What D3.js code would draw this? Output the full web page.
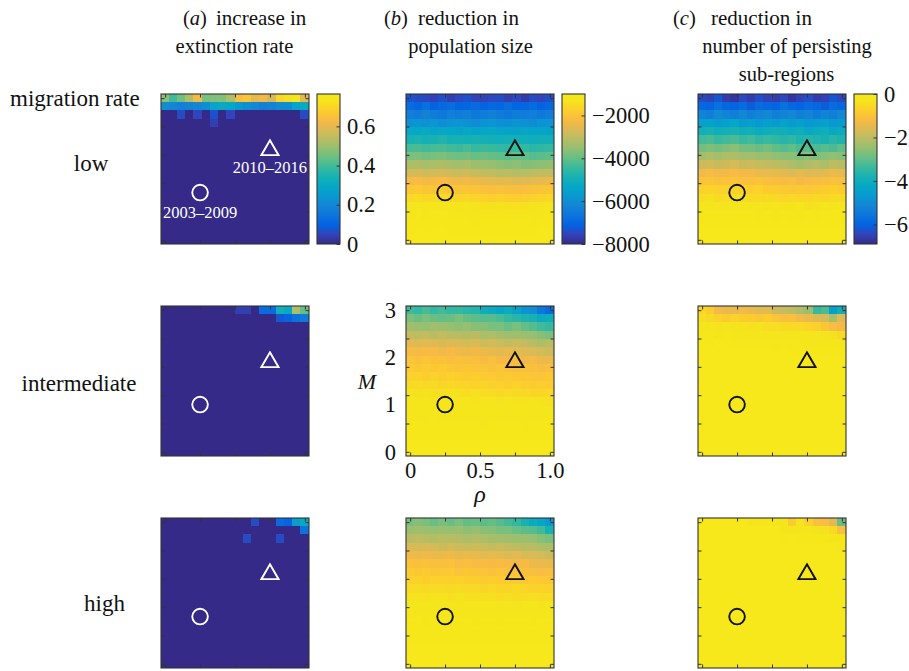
<!DOCTYPE html>
<html><head><meta charset="utf-8">
<script src="https://cdn.jsdelivr.net/npm/d3@7"></script>
<style>
body{margin:0;background:#fff}
text{font-family:"Liberation Serif","Times New Roman",serif;fill:#111}
</style>
</head><body>
<svg id="chart" width="909" height="671"></svg>
<script>
// ---------------- data ----------------
const rhoCenters = [0,0.0588,0.1176,0.1765,0.2353,0.2941,0.3529,0.4118,0.4706,0.5294,0.5882,0.6471,0.7059,0.7647,0.8235,0.8824,0.9412,1];
const mCentersTopDown = [3,2.8235,2.6471,2.4706,2.2941,2.1176,1.9412,1.7647,1.5882,1.4118,1.2353,1.0588,0.8824,0.7059,0.5294,0.3529,0.1765,0];
const rhoTicks = [0,0.25,0.5,0.75,1];
const rhoLabelValues = [0,0.5,1];
const rhoLabelTexts = ["0","0.5","1.0"];
const mTicks = [0,0.6,1.2,1.8,2.4,3];
const mLabelValues = [0,1,2,3];

const columnTitles = [
  ["a", "increase in", "extinction rate"],
  ["b", "reduction in", "population size"],
  ["c", "reduction in", "number of persisting", "sub-regions"]
];
const migrationLevels = ["low","intermediate","high"];

const periodLabels = ["2003\u20132009","2010\u20132016"];
const periodRho = [0.25, 0.75];
const periodM = [1.0, 1.95];
const periodShapes = ["circle","triangle"];

const extentExtinction = [0, 0.765];
const extentPopulation = [-8000, -1000];
const extentSubregions = [-6.9, 0];
const ticksExtinction = [0, 0.2, 0.4, 0.6];
const ticksPopulation = [-8000, -6000, -4000, -2000];
const ticksSubregions = [-6, -4, -2, 0];

// (a) increase in extinction rate — rows from M=3 (top) to M=0 (bottom)
const extinctionLow = [
[0.48,0.40,0.45,0.52,0.62,0.46,0.47,0.47,0.52,0.64,0.66,0.60,0.62,0.58,0.70,0.72,0.74,0.60],
[0.22,0.20,0.18,0.19,0.20,0.22,0.28,0.30,0.29,0.25,0.22,0.20,0.18,0.19,0.21,0.22,0.28,0.30],
[0,0,0.06,0,0.05,0,0.07,0,0.05,0,0,0,0,0,0,0,0,0.06],
[0,0,0,0,0,0,0.04,0,0,0,0,0,0,0,0,0,0,0],
[0,0,0,0,0,0,0,0,0,0,0,0,0,0,0,0,0,0],
[0,0,0,0,0,0,0,0,0,0,0,0,0,0,0,0,0,0],
[0,0,0,0,0,0,0,0,0,0,0,0,0,0,0,0,0,0],
[0,0,0,0,0,0,0,0,0,0,0,0,0,0,0,0,0,0],
[0,0,0,0,0,0,0,0,0,0,0,0,0,0,0,0,0,0],
[0,0,0,0,0,0,0,0,0,0,0,0,0,0,0,0,0,0],
[0,0,0,0,0,0,0,0,0,0,0,0,0,0,0,0,0,0],
[0,0,0,0,0,0,0,0,0,0,0,0,0,0,0,0,0,0],
[0,0,0,0,0,0,0,0,0,0,0,0,0,0,0,0,0,0],
[0,0,0,0,0,0,0,0,0,0,0,0,0,0,0,0,0,0],
[0,0,0,0,0,0,0,0,0,0,0,0,0,0,0,0,0,0],
[0,0,0,0,0,0,0,0,0,0,0,0,0,0,0,0,0,0],
[0,0,0,0,0,0,0,0,0,0,0,0,0,0,0,0,0,0],
[0,0,0,0,0,0,0,0,0,0,0,0,0,0,0,0,0,0]];
const extinctionIntermediate = [
[0,0,0,0,0,0,0,0,0,0.04,0.04,0,0.12,0.12,0.33,0.30,0.52,0.44],
[0,0,0,0,0,0,0,0,0,0,0,0,0,0,0.08,0.10,0.14,0.16],
[0,0,0,0,0,0,0,0,0,0,0,0,0,0,0,0,0,0],
[0,0,0,0,0,0,0,0,0,0,0,0,0,0,0,0,0,0],
[0,0,0,0,0,0,0,0,0,0,0,0,0,0,0,0,0,0],
[0,0,0,0,0,0,0,0,0,0,0,0,0,0,0,0,0,0],
[0,0,0,0,0,0,0,0,0,0,0,0,0,0,0,0,0,0],
[0,0,0,0,0,0,0,0,0,0,0,0,0,0,0,0,0,0],
[0,0,0,0,0,0,0,0,0,0,0,0,0,0,0,0,0,0],
[0,0,0,0,0,0,0,0,0,0,0,0,0,0,0,0,0,0],
[0,0,0,0,0,0,0,0,0,0,0,0,0,0,0,0,0,0],
[0,0,0,0,0,0,0,0,0,0,0,0,0,0,0,0,0,0],
[0,0,0,0,0,0,0,0,0,0,0,0,0,0,0,0,0,0],
[0,0,0,0,0,0,0,0,0,0,0,0,0,0,0,0,0,0],
[0,0,0,0,0,0,0,0,0,0,0,0,0,0,0,0,0,0],
[0,0,0,0,0,0,0,0,0,0,0,0,0,0,0,0,0,0],
[0,0,0,0,0,0,0,0,0,0,0,0,0,0,0,0,0,0],
[0,0,0,0,0,0,0,0,0,0,0,0,0,0,0,0,0,0]];
const extinctionHigh = [
[0,0,0,0,0,0,0,0,0,0,0,0.06,0,0,0.12,0.10,0.26,0.30],
[0,0,0,0,0,0,0,0,0,0,0,0,0,0,0,0,0,0.14],
[0,0,0,0,0,0,0,0,0,0,0.06,0,0,0,0.06,0,0,0],
[0,0,0,0,0,0,0,0,0,0,0,0,0,0,0,0,0,0],
[0,0,0,0,0,0,0,0,0,0,0,0,0,0,0,0,0,0],
[0,0,0,0,0,0,0,0,0,0,0,0,0,0,0,0,0,0],
[0,0,0,0,0,0,0,0,0,0,0,0,0,0,0,0,0,0],
[0,0,0,0,0,0,0,0,0,0,0,0,0,0,0,0,0,0],
[0,0,0,0,0,0,0,0,0,0,0,0,0,0,0,0,0,0],
[0,0,0,0,0,0,0,0,0,0,0,0,0,0,0,0,0,0],
[0,0,0,0,0,0,0,0,0,0,0,0,0,0,0,0,0,0],
[0,0,0,0,0,0,0,0,0,0,0,0,0,0,0,0,0,0],
[0,0,0,0,0,0,0,0,0,0,0,0,0,0,0,0,0,0],
[0,0,0,0,0,0,0,0,0,0,0,0,0,0,0,0,0,0],
[0,0,0,0,0,0,0,0,0,0,0,0,0,0,0,0,0,0],
[0,0,0,0,0,0,0,0,0,0,0,0,0,0,0,0,0,0],
[0,0,0,0,0,0,0,0,0,0,0,0,0,0,0,0,0,0],
[0,0,0,0,0,0,0,0,0,0,0,0,0,0,0,0,0,0]];

// (b) reduction in population size
const populationLow = [
[-7300,-7450,-7500,-7600,-7400,-7650,-7500,-7350,-7550,-7600,-7500,-7450,-7650,-7500,-7700,-7450,-7550,-7400],
[-6900,-7000,-6800,-7100,-6950,-6850,-7050,-7000,-6900,-7100,-6950,-7000,-6850,-7050,-7000,-6900,-7100,-6950],
[-6400,-6500,-6300,-6450,-6550,-6350,-6500,-6400,-6550,-6450,-6350,-6500,-6600,-6450,-6500,-6400,-6550,-6450],
[-5900,-5800,-5950,-5850,-6000,-5900,-5850,-5950,-6050,-5900,-5850,-5950,-6000,-5900,-5950,-6050,-5900,-5850],
[-5300,-5350,-5250,-5400,-5300,-5350,-5450,-5300,-5400,-5350,-5300,-5450,-5400,-5500,-5350,-5400,-5450,-5500],
[-4850,-4800,-4900,-4850,-4750,-4900,-4850,-4950,-4850,-4900,-4950,-5000,-4900,-4950,-5000,-5050,-4950,-5000],
[-4300,-4250,-4350,-4300,-4250,-4350,-4400,-4300,-4450,-4400,-4450,-4500,-4550,-4450,-4500,-4600,-4550,-4500],
[-3800,-3750,-3850,-3800,-3750,-3850,-3900,-3850,-3950,-3900,-4000,-4050,-4100,-4000,-4050,-4150,-4100,-4050],
[-3250,-3200,-3300,-3250,-3200,-3300,-3350,-3300,-3400,-3450,-3500,-3600,-3650,-3600,-3700,-3650,-3600,-3550],
[-2750,-2700,-2800,-2750,-2700,-2800,-2850,-2800,-2900,-2950,-3000,-3100,-3050,-3150,-3100,-3050,-3000,-2950],
[-2250,-2200,-2300,-2250,-2200,-2300,-2350,-2300,-2400,-2450,-2500,-2550,-2500,-2600,-2550,-2500,-2450,-2400],
[-1900,-1850,-1950,-1900,-1850,-1950,-2000,-1950,-2000,-2050,-2100,-2050,-2100,-2150,-2100,-2050,-2000,-1950],
[-1550,-1500,-1600,-1550,-1500,-1600,-1650,-1600,-1650,-1700,-1750,-1700,-1750,-1800,-1750,-1700,-1650,-1600],
[-1300,-1250,-1300,-1280,-1250,-1300,-1350,-1300,-1350,-1400,-1380,-1350,-1400,-1420,-1400,-1350,-1300,-1280],
[-1150,-1120,-1150,-1130,-1100,-1150,-1180,-1150,-1200,-1220,-1200,-1180,-1200,-1250,-1220,-1200,-1150,-1130],
[-1080,-1060,-1080,-1070,-1050,-1080,-1100,-1080,-1200,-1120,-1100,-1090,-1100,-1120,-1100,-1200,-1080,-1070],
[-1050,-1040,-1050,-1040,-1030,-1050,-1060,-1050,-1070,-1080,-1060,-1050,-1060,-1080,-1060,-1050,-1040,-1040],
[-1020,-1020,-1030,-1020,-1010,-1030,-1030,-1020,-1040,-1040,-1030,-1020,-1030,-1040,-1030,-1020,-1020,-1010]];
const populationIntermediate = [
[-4360,-4500,-4290,-4500,-4360,-4500,-4500,-4640,-4710,-5060,-5200,-5340,-5200,-5480,-5900,-6040,-6600,-6880],
[-3800,-3940,-3800,-3940,-4010,-3940,-3800,-4010,-4080,-4150,-4150,-4290,-4500,-4640,-4780,-4850,-5200,-5060],
[-3380,-3450,-3520,-3380,-3450,-3520,-3590,-3520,-3660,-3660,-3800,-3800,-3940,-3800,-4010,-4150,-4360,-4500],
[-2960,-3030,-2960,-3100,-2960,-3100,-3100,-3170,-3100,-3240,-3240,-3310,-3380,-3380,-3450,-3520,-3660,-3800],
[-2540,-2610,-2540,-2610,-2680,-2610,-2680,-2750,-2680,-2820,-2750,-2890,-2960,-2890,-2960,-3100,-3240,-3100],
[-2190,-2260,-2190,-2260,-2330,-2260,-2330,-2400,-2330,-2400,-2470,-2540,-2470,-2540,-2610,-2680,-2750,-2820],
[-1980,-2050,-1980,-2050,-2050,-2120,-2050,-2120,-2120,-2190,-2120,-2260,-2260,-2190,-2330,-2260,-2400,-2400],
[-1840,-1910,-1840,-1910,-1840,-1910,-1980,-1910,-1980,-1980,-2050,-1980,-2050,-2120,-2050,-2120,-2190,-2120],
[-1700,-1700,-1770,-1700,-1770,-1700,-1770,-1840,-1770,-1840,-1840,-1910,-1840,-1910,-1910,-1980,-1980,-1910],
[-1560,-1490,-1560,-1560,-1630,-1560,-1630,-1630,-1700,-1630,-1700,-1700,-1770,-1700,-1770,-1840,-1770,-1840],
[-1350,-1420,-1350,-1420,-1420,-1350,-1420,-1490,-1420,-1490,-1490,-1560,-1490,-1560,-1560,-1630,-1630,-1560],
[-1280,-1280,-1210,-1280,-1280,-1210,-1280,-1280,-1350,-1280,-1280,-1350,-1280,-1350,-1350,-1280,-1350,-1420],
[-1210,-1210,-1140,-1210,-1210,-1140,-1210,-1210,-1210,-1280,-1210,-1210,-1280,-1210,-1210,-1280,-1210,-1280],
[-1140,-1140,-1140,-1070,-1140,-1140,-1140,-1140,-1210,-1140,-1140,-1140,-1140,-1210,-1140,-1140,-1140,-1210],
[-1100,-1100,-1070,-1100,-1100,-1070,-1100,-1100,-1100,-1140,-1100,-1100,-1100,-1100,-1140,-1100,-1100,-1100],
[-1070,-1070,-1050,-1070,-1070,-1050,-1070,-1070,-1070,-1070,-1070,-1070,-1100,-1070,-1070,-1070,-1070,-1070],
[-1040,-1040,-1030,-1040,-1040,-1030,-1040,-1040,-1040,-1040,-1040,-1040,-1040,-1040,-1040,-1040,-1040,-1040],
[-1020,-1020,-1010,-1020,-1020,-1010,-1020,-1020,-1020,-1020,-1020,-1020,-1020,-1020,-1020,-1020,-1020,-1020]];
const populationHigh = [
[-3800,-3660,-3800,-3940,-3800,-3940,-3800,-4010,-3940,-4080,-4010,-4150,-4360,-4500,-4850,-5200,-5340,-5760],
[-3450,-3380,-3450,-3520,-3450,-3520,-3450,-3590,-3520,-3660,-3660,-3800,-3800,-3940,-4080,-4150,-4360,-4850],
[-3100,-3030,-3100,-3170,-3100,-3100,-3170,-3240,-3170,-3240,-3310,-3310,-3380,-3450,-3450,-3520,-3660,-3800],
[-2680,-2750,-2680,-2750,-2820,-2750,-2820,-2890,-2820,-2890,-2960,-2890,-2960,-3030,-3100,-3100,-3240,-3240],
[-2330,-2400,-2330,-2400,-2400,-2330,-2470,-2400,-2470,-2540,-2470,-2540,-2610,-2540,-2680,-2680,-2750,-2820],
[-2050,-2120,-2050,-2120,-2120,-2050,-2190,-2120,-2190,-2190,-2260,-2190,-2260,-2330,-2260,-2400,-2400,-2470],
[-1840,-1910,-1840,-1910,-1910,-1840,-1980,-1910,-1980,-1980,-2050,-1980,-2050,-2050,-2120,-2120,-2190,-2120],
[-1700,-1700,-1770,-1700,-1700,-1770,-1700,-1770,-1770,-1840,-1770,-1840,-1840,-1840,-1910,-1840,-1910,-1910],
[-1490,-1490,-1560,-1490,-1490,-1560,-1490,-1560,-1560,-1630,-1560,-1630,-1630,-1560,-1630,-1700,-1630,-1700],
[-1350,-1350,-1420,-1350,-1350,-1420,-1350,-1420,-1420,-1420,-1420,-1490,-1420,-1490,-1490,-1420,-1490,-1490],
[-1250,-1250,-1280,-1250,-1250,-1280,-1250,-1280,-1250,-1280,-1280,-1280,-1280,-1350,-1280,-1280,-1350,-1280],
[-1180,-1180,-1210,-1180,-1180,-1180,-1180,-1210,-1180,-1210,-1210,-1180,-1210,-1210,-1210,-1180,-1210,-1210],
[-1100,-1100,-1140,-1100,-1100,-1100,-1100,-1100,-1140,-1100,-1100,-1140,-1100,-1100,-1100,-1140,-1100,-1100],
[-1070,-1070,-1070,-1070,-1070,-1070,-1070,-1070,-1070,-1070,-1070,-1070,-1070,-1070,-1070,-1070,-1070,-1070],
[-1050,-1050,-1050,-1050,-1050,-1050,-1050,-1050,-1050,-1050,-1050,-1050,-1050,-1050,-1050,-1050,-1050,-1050],
[-1030,-1030,-1030,-1030,-1030,-1030,-1030,-1030,-1030,-1030,-1030,-1030,-1030,-1030,-1030,-1030,-1030,-1030],
[-1020,-1020,-1020,-1020,-1020,-1020,-1020,-1020,-1020,-1020,-1020,-1020,-1020,-1020,-1020,-1020,-1020,-1020],
[-1010,-1010,-1010,-1010,-1010,-1010,-1010,-1010,-1010,-1010,-1010,-1010,-1010,-1010,-1010,-1010,-1010,-1010]];

// (c) reduction in number of persisting sub-regions
const subregionsLow = [
[-6.35,-6.5,-6.2,-6.6,-6.7,-6.4,-6.6,-6.3,-6.5,-6.6,-6.4,-6.7,-6.5,-6.3,-6.6,-6.5,-6.2,-6.4],
[-5.9,-6.0,-5.7,-5.9,-6.0,-5.8,-6.1,-5.8,-5.9,-6.0,-5.7,-5.9,-6.0,-5.8,-5.9,-6.1,-5.8,-5.9],
[-5.2,-5.3,-5.0,-5.2,-5.3,-5.1,-5.3,-5.2,-5.1,-5.3,-5.2,-5.1,-5.3,-5.2,-5.4,-5.2,-5.3,-5.1],
[-4.5,-4.4,-4.6,-4.5,-4.3,-4.6,-4.5,-4.7,-4.5,-4.6,-4.4,-4.6,-4.5,-4.7,-4.6,-4.5,-4.7,-4.6],
[-3.9,-3.8,-4.0,-3.9,-3.8,-4.0,-3.9,-4.1,-4.0,-3.9,-4.0,-4.1,-4.0,-4.2,-4.1,-4.0,-4.2,-4.1],
[-3.3,-3.2,-3.4,-3.3,-3.2,-3.4,-3.3,-3.5,-3.4,-3.5,-3.6,-3.5,-3.7,-3.6,-3.7,-3.8,-3.6,-3.7],
[-2.8,-2.7,-2.8,-2.7,-2.6,-2.8,-2.8,-2.9,-2.8,-3.0,-3.1,-3.0,-3.2,-3.1,-3.2,-3.1,-3.2,-3.0],
[-2.3,-2.2,-2.3,-2.2,-2.2,-2.3,-2.3,-2.4,-2.4,-2.5,-2.6,-2.6,-2.7,-2.6,-2.7,-2.6,-2.5,-2.6],
[-1.8,-1.75,-1.85,-1.8,-1.7,-1.85,-1.8,-1.9,-1.95,-2.0,-2.1,-2.2,-2.3,-2.2,-2.1,-2.2,-2.0,-2.1],
[-1.3,-1.2,-1.3,-1.25,-1.2,-1.3,-1.3,-1.4,-1.4,-1.45,-1.5,-1.6,-1.5,-1.6,-1.55,-1.5,-1.4,-1.45],
[-1.0,-0.95,-1.05,-1.0,-0.95,-1.05,-1.05,-1.0,-1.1,-1.15,-1.2,-1.15,-1.25,-1.2,-1.15,-1.1,-1.05,-1.1],
[-0.7,-0.65,-0.7,-0.7,-0.65,-0.7,-0.75,-0.7,-0.8,-0.8,-0.85,-0.9,-0.85,-0.9,-0.85,-0.8,-0.75,-0.8],
[-0.45,-0.4,-0.5,-0.45,-0.4,-0.45,-0.5,-0.55,-0.5,-0.55,-0.6,-0.55,-0.6,-0.6,-0.55,-0.6,-0.55,-0.5],
[-0.25,-0.25,-0.3,-0.25,-0.2,-0.25,-0.3,-0.25,-0.35,-0.3,-0.35,-0.35,-0.3,-0.4,-0.35,-0.3,-0.35,-0.3],
[-0.12,-0.12,-0.12,-0.12,-0.08,-0.12,-0.12,-0.16,-0.12,-0.16,-0.12,-0.16,-0.16,-0.12,-0.16,-0.12,-0.12,-0.12],
[-0.06,-0.06,-0.06,-0.06,-0.05,-0.06,-0.06,-0.06,-0.06,-0.08,-0.06,-0.06,-0.08,-0.06,-0.06,-0.06,-0.06,-0.06],
[-0.02,-0.02,-0.02,-0.02,-0.02,-0.02,-0.02,-0.02,-0.02,-0.02,-0.02,-0.02,-0.02,-0.02,-0.02,-0.02,-0.02,-0.02],
[0,0,0,0,0,0,0,0,0,0,0,0,0,0,0,0,0,0]];
const subregionsIntermediate = [
[-0.6,-0.8,-1.3,-1.4,-1.4,-1.3,-1.4,-1.5,-1.5,-1.8,-1.9,-2.0,-2.2,-2.4,-3.4,-3.2,-4.5,-4.0],
[-0.45,-0.55,-0.7,-0.8,-0.7,-0.8,-0.8,-0.9,-0.8,-1.0,-1.1,-1.1,-1.3,-1.4,-1.6,-1.7,-2.3,-1.6],
[-0.25,-0.3,-0.35,-0.3,-0.35,-0.35,-0.4,-0.35,-0.45,-0.45,-0.5,-0.55,-0.55,-0.65,-0.75,-0.95,-1.15,-1.25],
[-0.1,-0.1,-0.15,-0.1,-0.15,-0.2,-0.2,-0.2,-0.2,-0.2,-0.25,-0.2,-0.25,-0.3,-0.3,-0.35,-0.4,-0.5],
[0,-0.05,0,-0.05,-0.05,-0.1,-0.05,-0.1,-0.1,-0.1,-0.1,-0.1,-0.1,-0.15,-0.15,-0.2,-0.2,-0.25],
[0,0,0,0,0,0,0,0,0,-0.05,0,-0.05,-0.05,-0.05,-0.1,-0.1,-0.1,-0.1],
[0,0,0,0,0,0,0,0,0,0,0,0,0,0,0,0,0,0],
[0,0,0,0,0,0,0,0,0,0,0,0,0,0,0,0,0,0],
[0,0,0,0,0,0,0,0,0,0,0,0,0,0,0,0,0,0],
[0,0,0,0,0,0,0,0,0,0,0,0,0,0,0,0,0,0],
[0,0,0,0,0,0,0,0,0,0,0,0,0,0,0,0,0,0],
[0,0,0,0,0,0,0,0,0,0,0,0,0,0,0,0,0,0],
[0,0,0,0,0,0,0,0,0,0,0,0,0,0,0,0,0,0],
[0,0,0,0,0,0,0,0,0,0,0,0,0,0,0,0,0,0],
[0,0,0,0,0,0,0,0,0,0,0,0,0,0,0,0,0,0],
[0,0,0,0,0,0,0,0,0,0,0,0,0,0,0,0,0,0],
[0,0,0,0,0,0,0,0,0,0,0,0,0,0,0,0,0,0],
[0,0,0,0,0,0,0,0,0,0,0,0,0,0,0,0,0,0]];
const subregionsHigh = [
[0,0,0,0,0,0,-0.2,-0.2,-0.2,-0.25,-0.25,-0.8,-0.35,-0.7,-1.1,-1.2,-1.5,-2.9],
[0,0,0,0,0,0,0,0,0,0,-0.2,-0.25,-0.3,-0.25,-0.35,-0.4,-0.5,-1.1],
[0,0,0,0,0,0,0,0,0,0,-0.07,0,-0.05,-0.07,-0.1,-0.1,-0.15,-0.25],
[0,0,0,0,0,0,0,0,0,0,0,0,0,0,0,0,0,-0.05],
[0,0,0,0,0,0,0,0,0,0,0,0,0,0,0,0,0,0],
[0,0,0,0,0,0,0,0,0,0,0,0,0,0,0,0,0,0],
[0,0,0,0,0,0,0,0,0,0,0,0,0,0,0,0,0,0],
[0,0,0,0,0,0,0,0,0,0,0,0,0,0,0,0,0,0],
[0,0,0,0,0,0,0,0,0,0,0,0,0,0,0,0,0,0],
[0,0,0,0,0,0,0,0,0,0,0,0,0,0,0,0,0,0],
[0,0,0,0,0,0,0,0,0,0,0,0,0,0,0,0,0,0],
[0,0,0,0,0,0,0,0,0,0,0,0,0,0,0,0,0,0],
[0,0,0,0,0,0,0,0,0,0,0,0,0,0,0,0,0,0],
[0,0,0,0,0,0,0,0,0,0,0,0,0,0,0,0,0,0],
[0,0,0,0,0,0,0,0,0,0,0,0,0,0,0,0,0,0],
[0,0,0,0,0,0,0,0,0,0,0,0,0,0,0,0,0,0],
[0,0,0,0,0,0,0,0,0,0,0,0,0,0,0,0,0,0],
[0,0,0,0,0,0,0,0,0,0,0,0,0,0,0,0,0,0]];

// ---------------- colormap (parula) ----------------
const parulaStops = [
[0.2081,0.1663,0.5292],[0.1959,0.2645,0.7279],[0.0117,0.3875,0.8820],[0.0498,0.4586,0.8641],
[0.0793,0.5200,0.8312],[0.0343,0.5966,0.8199],[0.0228,0.6535,0.7768],[0.0843,0.6928,0.7062],
[0.2178,0.7250,0.6193],[0.3953,0.7459,0.5244],[0.5709,0.7485,0.4494],[0.7184,0.7411,0.3905],
[0.8507,0.7299,0.3360],[0.9739,0.7314,0.2666],[0.9880,0.8066,0.1794],[0.9589,0.8949,0.1132],
[0.9650,0.9100,0.1000]];
const parulaPos = [0,4,8,12,16,20,24,28,32,36,40,44,48,52,56,60,63].map(i => i/63);
const parula = d3.scaleLinear().domain(parulaPos)
  .range(parulaStops.map(c => d3.rgb(c[0]*255, c[1]*255, c[2]*255)))
  .interpolate(d3.interpolateRgb).clamp(true);

// ---------------- layout ----------------
const svg = d3.select("#chart");
svg.append("rect").attr("width",909).attr("height",671).attr("fill","#fff");
const colX = [161, 406, 698];
const rowY = [94, 306, 518];
const PW = 148, PH = 150;
const cbX = [317, 562, 854], cbW = 23;
const FS_TICK = 22.5, FS_TITLE = 20.5, FS_ROW = 23;
const ink = "#111";

const panels = [
  {grid:[extinctionLow, extinctionIntermediate, extinctionHigh], extent: extentExtinction, ticks: ticksExtinction, fmt: d3.format("~g"), marker:"#ffffff"},
  {grid:[populationLow, populationIntermediate, populationHigh], extent: extentPopulation, ticks: ticksPopulation, fmt: d3.format("d"), marker: ink},
  {grid:[subregionsLow, subregionsIntermediate, subregionsHigh], extent: extentSubregions, ticks: ticksSubregions, fmt: d3.format("d"), marker: ink}
];

const defs = svg.append("defs");

panels.forEach((p, ci) => {
  const color = v => parula((v - p.extent[0]) / (p.extent[1] - p.extent[0]));
  p.grid.forEach((grid, ri) => {
    const x0 = colX[ci], y0 = rowY[ri];
    const x = d3.scaleLinear().domain([-1/34, 1 + 1/34]).range([x0, x0 + PW]);
    const y = d3.scaleLinear().domain([-3/34, 3 + 3/34]).range([y0 + PH, y0]);
    const cw = Math.abs(x(rhoCenters[1]) - x(rhoCenters[0]));
    const ch = Math.abs(y(mCentersTopDown[0]) - y(mCentersTopDown[1]));
    const id = `clip${ci}${ri}`;
    defs.append("clipPath").attr("id", id).append("rect")
      .attr("x", x0).attr("y", y0).attr("width", PW).attr("height", PH);
    const g = svg.append("g");
    const cells = [];
    grid.forEach((row, r) => row.forEach((v, c) => cells.push({rho: rhoCenters[c], m: mCentersTopDown[r], v})));
    g.append("g").attr("clip-path", `url(#${id})`).attr("shape-rendering","crispEdges")
      .selectAll("rect").data(cells).join("rect")
      .attr("x", d => x(d.rho) - cw/2 - 0.4).attr("y", d => y(d.m) - ch/2 - 0.4)
      .attr("width", cw + 0.8).attr("height", ch + 0.8)
      .attr("fill", d => color(d.v));
    g.append("rect").attr("x", x0).attr("y", y0).attr("width", PW).attr("height", PH)
      .attr("fill","none").attr("stroke","#333").attr("stroke-width",1.1);
    const tk = 3.5;
    const tickStyle = sel => { sel.select(".domain").remove(); sel.selectAll("line").attr("stroke","#333").attr("stroke-width",1); sel.selectAll("text").remove(); };
    g.append("g").attr("transform",`translate(0,${y0+PH})`).call(d3.axisBottom(x).tickValues(rhoTicks).tickSize(-tk)).call(tickStyle);
    g.append("g").attr("transform",`translate(0,${y0})`).call(d3.axisTop(x).tickValues(rhoTicks).tickSize(-tk)).call(tickStyle);
    g.append("g").attr("transform",`translate(${x0},0)`).call(d3.axisLeft(y).tickValues(mTicks).tickSize(-tk)).call(tickStyle);
    g.append("g").attr("transform",`translate(${x0+PW},0)`).call(d3.axisRight(y).tickValues(mTicks).tickSize(-tk)).call(tickStyle);

    if (ci === 1 && ri === 1) {
      const lab = sel => { sel.select(".domain").remove(); sel.selectAll("line").remove();
        sel.attr("font-family", null).attr("font-size", null);
        sel.selectAll("text").attr("font-size", FS_TICK).attr("fill", ink); };
      g.append("g").attr("transform",`translate(0,${y0+PH})`)
        .call(d3.axisBottom(x).tickValues(rhoLabelValues).tickSize(0).tickPadding(6).tickFormat((d,i) => rhoLabelTexts[i])).call(lab);
      g.append("g").attr("transform",`translate(${x0},0)`)
        .call(d3.axisLeft(y).tickValues(mLabelValues).tickSize(0).tickPadding(10).tickFormat(d3.format("d"))).call(lab);
      g.append("text").attr("x", x(0.5)).attr("y", y0 + PH + 46).attr("text-anchor","middle")
        .attr("font-size", 24).attr("font-style","italic").text("\u03C1");
      g.append("text").attr("x", x0 - 39).attr("y", y(1.5) + 8).attr("text-anchor","middle")
        .attr("font-size", 22).attr("font-style","italic").text("M");
    }

    periodRho.forEach((pr, k) => {
      const cx = x(pr), cy = y(periodM[k]);
      if (periodShapes[k] === "circle") {
        g.append("circle").attr("cx", cx).attr("cy", cy).attr("r", 7.8)
          .attr("fill","none").attr("stroke", p.marker).attr("stroke-width", 1.9);
      } else {
        g.append("path").attr("d", `M${cx},${cy-7.4}L${cx+8.6},${cy+7.4}L${cx-8.6},${cy+7.4}Z`)
          .attr("fill","none").attr("stroke", p.marker).attr("stroke-width", 1.9).attr("stroke-linejoin","miter");
      }
      if (ci === 0 && ri === 0) {
        g.append("text").attr("x", cx).attr("y", cy + 25.5).attr("text-anchor","middle")
          .attr("font-size", 16.5).style("fill","#ffffff").text(periodLabels[k]);
      }
    });
  });

  // colorbar
  const cx0 = cbX[ci], cy0 = rowY[0];
  const cs = d3.scaleLinear().domain(p.extent).range([cy0 + PH, cy0]);
  const gid = `grad${ci}`;
  const grad = defs.append("linearGradient").attr("id", gid).attr("x1",0).attr("y1",1).attr("x2",0).attr("y2",0);
  d3.range(0, 1.0001, 1/63).forEach(t => grad.append("stop").attr("offset", t).attr("stop-color", parula(t)));
  const gc = svg.append("g");
  gc.append("rect").attr("x", cx0).attr("y", cy0).attr("width", cbW).attr("height", PH)
    .attr("fill", `url(#${gid})`).attr("stroke","#333").attr("stroke-width",1.1);
  gc.append("g").attr("transform",`translate(${cx0+cbW},0)`)
    .call(d3.axisRight(cs).tickValues(p.ticks).tickSize(-3.5).tickFormat(""))
    .call(sel => { sel.select(".domain").remove(); sel.selectAll("line").attr("stroke","#333"); sel.selectAll("text").remove(); });
  gc.append("g").attr("transform",`translate(${cx0+cbW},0)`)
    .call(d3.axisRight(cs).tickValues(p.ticks).tickSize(0).tickPadding(7).tickFormat(p.fmt))
    .call(sel => { sel.select(".domain").remove(); sel.selectAll("line").remove(); sel.attr("font-family", null).attr("font-size", null);
      sel.selectAll("text").attr("font-size", FS_TICK).attr("fill", ink); });
});

// column titles
const prefixX = [183, 384, 673];
const headX = [216, 418, 711];
const lineX = [[234.5],[470.5],[787,786.5]];
const titleY = [25, 53, 81];
columnTitles.forEach((t, ci) => {
  const pre = svg.append("text").attr("x", prefixX[ci]).attr("y", titleY[0]).attr("font-size", FS_TITLE);
  pre.append("tspan").text("(");
  pre.append("tspan").attr("font-style","italic").text(t[0]);
  pre.append("tspan").text(")");
  svg.append("text").attr("x", headX[ci]).attr("y", titleY[0]).attr("font-size", FS_TITLE + 0.5).text(t[1]);
  t.slice(2).forEach((line, k) => {
    svg.append("text").attr("x", lineX[ci][k]).attr("y", titleY[k+1]).attr("text-anchor","middle")
      .attr("font-size", FS_TITLE).text(line);
  });
});

// row labels
svg.append("text").attr("x", 10).attr("y", 106).attr("font-size", FS_ROW).text("migration rate");
const rowLabelX = [91, 79, 104.5];
const rowLabelY = [171, 391, 611];
migrationLevels.forEach((l, i) => {
  svg.append("text").attr("x", rowLabelX[i]).attr("y", rowLabelY[i]).attr("text-anchor","middle")
    .attr("font-size", FS_ROW).text(l);
});
</script>
</body></html>
